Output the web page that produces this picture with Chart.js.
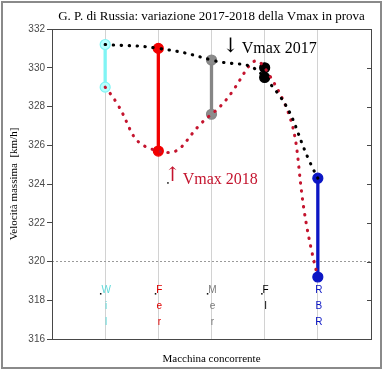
<!DOCTYPE html>
<html><head><meta charset="utf-8">
<script src="https://cdn.jsdelivr.net/npm/chart.js@4.4.0/dist/chart.umd.min.js"></script>
<style>html,body{margin:0;padding:0;background:#fff;overflow:hidden}</style>
</head><body>
<canvas id="c" width="383" height="370"></canvas>
<script>
// ---- data ----
const teams = ['Wil', 'Fer', 'Mer', 'FI', 'RBR'];
const teamLetters = [['W','i','l'], ['F','e','r'], ['M','e','r'], ['F','I'], ['R','B','R']];
const teamX = [1, 2, 3, 4, 5];
const vmax2017 = [331.2, 331.0, 330.4, 329.5, 324.3];
const vmax2018 = [329.0, 325.7, 327.6, 330.0, 319.2];
const yTicks = [316, 318, 320, 322, 324, 326, 328, 330, 332];
const refValue = 320;
const labelValue = 318.5;

// ---- styles ----
const teamColors = ['#80f4f4', '#f20000', '#868686', '#000000', '#0c16c4'];
const teamPointFill = ['#b8ffff', '#f20000', '#8c8c8c', '#000000', '#0c16c4'];
const teamTextColors = ['#5fd9d9', '#e00000', '#7a7a7a', '#000000', '#0c16c4'];
const crimson = '#c4142e';
const SERIF = '"Liberation Serif", "Times New Roman", serif';
const SANS = '"Liberation Sans", Arial, sans-serif';

const datasets = [
  {
    data: teamX.map((x, i) => ({x, y: vmax2017[i]})),
    borderColor: '#000', borderWidth: 3.1, borderDash: [0.4, 7.6], borderCapStyle: 'round',
    pointRadius: 0, tension: 0.5, fill: false
  },
  {
    data: teamX.map((x, i) => ({x, y: vmax2018[i]})),
    borderColor: crimson, borderWidth: 3.1, borderDash: [0.4, 7.6], borderCapStyle: 'round',
    pointRadius: 0, tension: 0.6, fill: false
  }
];
teamX.forEach((x, i) => {
  datasets.push({
    data: [{x, y: vmax2017[i]}, {x, y: vmax2018[i]}],
    borderColor: teamColors[i], borderWidth: 3.3,
    pointRadius: 5, pointBorderWidth: 1.2,
    pointBackgroundColor: teamPointFill[i], pointBorderColor: teamColors[i],
    tension: 0, fill: false
  });
});
datasets.push({
  data: [{x: 0, y: refValue}, {x: 6, y: refValue}],
  borderColor: '#9a9a9a', borderWidth: 1, borderDash: [2, 2],
  pointRadius: 0, tension: 0, fill: false
});

const decor = {
  id: 'decor',
  beforeDraw(chart) {
    const ctx = chart.ctx;
    ctx.save();
    ctx.fillStyle = '#fff';
    ctx.fillRect(0, 0, chart.width, chart.height);
    ctx.strokeStyle = '#8a8a8a';
    ctx.lineWidth = 2;
    ctx.strokeRect(2, 2, chart.width - 4, chart.height - 4);
    ctx.restore();
  },
  afterDraw(chart) {
    const ctx = chart.ctx;
    const a = chart.chartArea;
    const xs = chart.scales.x, ys = chart.scales.y;
    ctx.save();
    // plot box
    ctx.strokeStyle = '#474747';
    ctx.lineWidth = 1;
    ctx.strokeRect(Math.round(a.left) + 0.5, Math.round(a.top) + 0.5,
                   Math.round(a.right - a.left), Math.round(a.bottom - a.top));
    // right inside ticks
    yTicks.forEach(v => {
      const y = Math.round(ys.getPixelForValue(v)) + 0.5;
      ctx.beginPath();
      ctx.moveTo(a.right - 4, y); ctx.lineTo(a.right, y); ctx.stroke();
    });
    // team letters
    ctx.font = '10px ' + SANS;
    ctx.textAlign = 'center';
    ctx.textBaseline = 'middle';
    const y0 = ys.getPixelForValue(labelValue);
    teamLetters.forEach((letters, i) => {
      const cx = xs.getPixelForValue(teamX[i]) + 1;
      ctx.fillStyle = teamTextColors[i];
      letters.forEach((ch, k) => ctx.fillText(ch, cx, y0 + k * 16));
      if (i < 4) {
        const w = ctx.measureText(letters[0]).width;
        ctx.fillStyle = '#000';
        ctx.fillRect(cx - w / 2 - 1.5, y0 + 2.5, 1.5, 1.5);
      }
    });
    // annotations
    const ax17 = xs.getPixelForValue(3.36);
    const ay17 = ys.getPixelForValue(331.0);
    ctx.fillStyle = '#000';
    ctx.font = '20px "DejaVu Serif", serif';
    ctx.textAlign = 'center'; ctx.textBaseline = 'middle';
    ctx.fillText('\u2193', ax17, ay17 - 2);
    ctx.font = '16px ' + SERIF;
    ctx.textAlign = 'left'; ctx.textBaseline = 'alphabetic';
    ctx.fillText('Vmax 2017', ax17 + 11, ay17 + 5);

    const ax18 = xs.getPixelForValue(2.27);
    const ay18 = ys.getPixelForValue(324.3);
    ctx.fillStyle = crimson;
    ctx.font = '20px "DejaVu Serif", serif';
    ctx.textAlign = 'center'; ctx.textBaseline = 'middle';
    ctx.fillText('\u2191', ax18, ay18 - 2);
    ctx.font = '16px ' + SERIF;
    ctx.textAlign = 'left'; ctx.textBaseline = 'alphabetic';
    ctx.fillText('Vmax 2018', ax18 + 10, ay18 + 6);
    ctx.fillStyle = '#000';
    ctx.fillRect(ax18 - 5.5, ay18 + 4, 1.5, 1.5);

    // titles
    ctx.fillStyle = '#000';
    ctx.textAlign = 'center'; ctx.textBaseline = 'alphabetic';
    ctx.font = '13px ' + SERIF;
    ctx.fillText('G. P. di Russia: variazione 2017-2018 della Vmax in prova', (a.left + a.right) / 2, 20);
    ctx.font = '11px ' + SERIF;
    ctx.fillText('Macchina concorrente', (a.left + a.right) / 2, 362);
    ctx.save();
    ctx.translate(17, (a.top + a.bottom) / 2);
    ctx.rotate(-Math.PI / 2);
    ctx.fillText('Velocit\u00e0 massima  [km/h]', 0, 0);
    ctx.restore();
    ctx.restore();
  }
};

new Chart(document.getElementById('c'), {
  type: 'line',
  data: { datasets },
  plugins: [decor],
  options: {
    responsive: false,
    devicePixelRatio: 1,
    animation: false,
    layout: { padding: { left: 0, top: 29, right: 12, bottom: 0 } },
    plugins: { legend: { display: false }, tooltip: { enabled: false }, title: { display: false } },
    scales: {
      x: {
        type: 'linear', min: 0, max: 6,
        afterBuildTicks: s => { s.ticks = teamX.map(v => ({value: v})); },
        afterFit: s => { s.height = 31; },
        ticks: { display: false },
        grid: { color: '#d2d2d2', lineWidth: 1, drawTicks: false },
        border: { display: false }
      },
      y: {
        type: 'linear', min: 316, max: 332,
        afterBuildTicks: s => { s.ticks = yTicks.map(v => ({value: v})); },
        afterFit: s => { s.width = 52; },
        ticks: { font: { family: SANS, size: 10 }, color: '#4a4a4a', padding: 2 },
        grid: { drawOnChartArea: false, drawTicks: true, tickLength: 5, tickColor: '#474747' },
        border: { display: false }
      }
    }
  }
});
</script>
</body></html>
